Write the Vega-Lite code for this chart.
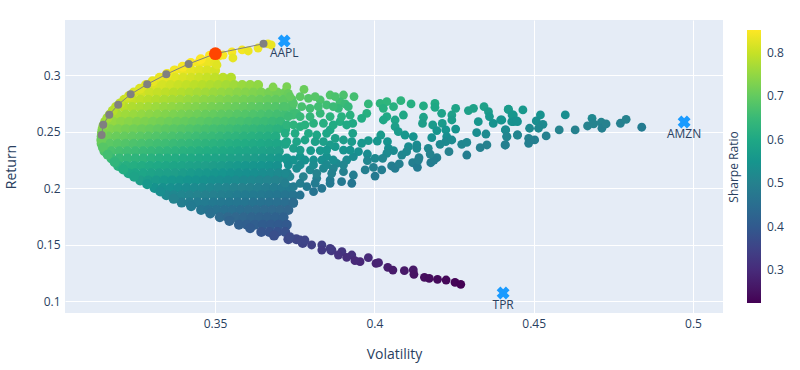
{"$schema":"https://vega.github.io/schema/vega-lite/v6.json","width":658,"height":293,"autosize":"none","padding":{"left":65,"top":20,"right":77,"bottom":57},"background":"white","config":{"view":{"stroke":null,"fill":"#E5ECF6"},"font":"Open Sans"},
"datasets":{"frontier":[{"vol":0.3144,"ret":0.2473},{"vol":0.3149,"ret":0.2565},{"vol":0.3168,"ret":0.2653},{"vol":0.3196,"ret":0.2742},{"vol":0.3235,"ret":0.2834},{"vol":0.3287,"ret":0.2922},{"vol":0.3347,"ret":0.3011},{"vol":0.3417,"ret":0.3102},{"vol":0.3501,"ret":0.3193},{"vol":0.3652,"ret":0.3281}],
"best":[{"vol":0.3501,"ret":0.3193}],
"assets":[{"vol":0.3717,"ret":0.3305,"name":"AAPL"},{"vol":0.4972,"ret":0.2588,"name":"AMZN"},{"vol":0.4404,"ret":0.1075,"name":"TPR"}],
"dense":[
{"vol":0.3484,"ret":0.3175,"s":0.853},{"vol":0.351,"ret":0.3175,"s":0.848},
{"vol":0.3424,"ret":0.311,"s":0.85},{"vol":0.345,"ret":0.311,"s":0.843},{"vol":0.3475,"ret":0.311,"s":0.837},{"vol":0.35,"ret":0.311,"s":0.831},
{"vol":0.3373,"ret":0.3045,"s":0.843},{"vol":0.34,"ret":0.3045,"s":0.837},{"vol":0.3425,"ret":0.3045,"s":0.831},{"vol":0.345,"ret":0.3045,"s":0.825},{"vol":0.3475,"ret":0.3045,"s":0.819},{"vol":0.35,"ret":0.3045,"s":0.813},
{"vol":0.3326,"ret":0.298,"s":0.836},{"vol":0.335,"ret":0.298,"s":0.83},{"vol":0.3375,"ret":0.298,"s":0.824},{"vol":0.34,"ret":0.298,"s":0.818},{"vol":0.3425,"ret":0.298,"s":0.812},{"vol":0.345,"ret":0.298,"s":0.806},{"vol":0.3475,"ret":0.298,"s":0.8},{"vol":0.35,"ret":0.298,"s":0.794},{"vol":0.3525,"ret":0.298,"s":0.789},{"vol":0.355,"ret":0.298,"s":0.783},
{"vol":0.3283,"ret":0.2915,"s":0.827},{"vol":0.331,"ret":0.2915,"s":0.82},{"vol":0.3335,"ret":0.2915,"s":0.814},{"vol":0.336,"ret":0.2915,"s":0.808},{"vol":0.3385,"ret":0.2915,"s":0.802},{"vol":0.341,"ret":0.2915,"s":0.796},{"vol":0.3435,"ret":0.2915,"s":0.79},{"vol":0.346,"ret":0.2915,"s":0.785},{"vol":0.3485,"ret":0.2915,"s":0.779},{"vol":0.351,"ret":0.2915,"s":0.774},{"vol":0.3535,"ret":0.2915,"s":0.768},{"vol":0.356,"ret":0.2915,"s":0.763},{"vol":0.3585,"ret":0.2915,"s":0.757},{"vol":0.361,"ret":0.2915,"s":0.752},{"vol":0.3635,"ret":0.2915,"s":0.747},
{"vol":0.3245,"ret":0.285,"s":0.817},{"vol":0.327,"ret":0.285,"s":0.81},{"vol":0.3295,"ret":0.285,"s":0.804},{"vol":0.332,"ret":0.285,"s":0.798},{"vol":0.3345,"ret":0.285,"s":0.792},{"vol":0.337,"ret":0.285,"s":0.786},{"vol":0.3395,"ret":0.285,"s":0.781},{"vol":0.342,"ret":0.285,"s":0.775},{"vol":0.3445,"ret":0.285,"s":0.769},{"vol":0.347,"ret":0.285,"s":0.764},{"vol":0.3495,"ret":0.285,"s":0.758},{"vol":0.352,"ret":0.285,"s":0.753},{"vol":0.3545,"ret":0.285,"s":0.748},{"vol":0.357,"ret":0.285,"s":0.742},{"vol":0.3595,"ret":0.285,"s":0.737},{"vol":0.362,"ret":0.285,"s":0.732},{"vol":0.3645,"ret":0.285,"s":0.727},{"vol":0.367,"ret":0.285,"s":0.722},{"vol":0.3695,"ret":0.285,"s":0.717},{"vol":0.372,"ret":0.285,"s":0.712},
{"vol":0.3215,"ret":0.2785,"s":0.804},{"vol":0.324,"ret":0.2785,"s":0.798},{"vol":0.3265,"ret":0.2785,"s":0.792},{"vol":0.329,"ret":0.2785,"s":0.786},{"vol":0.3315,"ret":0.2785,"s":0.78},{"vol":0.334,"ret":0.2785,"s":0.774},{"vol":0.3365,"ret":0.2785,"s":0.768},{"vol":0.339,"ret":0.2785,"s":0.763},{"vol":0.3415,"ret":0.2785,"s":0.757},{"vol":0.344,"ret":0.2785,"s":0.751},{"vol":0.3465,"ret":0.2785,"s":0.746},{"vol":0.349,"ret":0.2785,"s":0.741},{"vol":0.3515,"ret":0.2785,"s":0.735},{"vol":0.354,"ret":0.2785,"s":0.73},{"vol":0.3565,"ret":0.2785,"s":0.725},{"vol":0.359,"ret":0.2785,"s":0.72},{"vol":0.3615,"ret":0.2785,"s":0.715},{"vol":0.364,"ret":0.2785,"s":0.71},{"vol":0.3665,"ret":0.2785,"s":0.705},{"vol":0.369,"ret":0.2785,"s":0.701},{"vol":0.3715,"ret":0.2785,"s":0.696},{"vol":0.374,"ret":0.2785,"s":0.691},
{"vol":0.3189,"ret":0.272,"s":0.79},{"vol":0.3215,"ret":0.272,"s":0.784},{"vol":0.324,"ret":0.272,"s":0.778},{"vol":0.3265,"ret":0.272,"s":0.772},{"vol":0.329,"ret":0.272,"s":0.766},{"vol":0.3315,"ret":0.272,"s":0.76},{"vol":0.334,"ret":0.272,"s":0.754},{"vol":0.3365,"ret":0.272,"s":0.749},{"vol":0.339,"ret":0.272,"s":0.743},{"vol":0.3415,"ret":0.272,"s":0.738},{"vol":0.344,"ret":0.272,"s":0.733},{"vol":0.3465,"ret":0.272,"s":0.727},{"vol":0.349,"ret":0.272,"s":0.722},{"vol":0.3515,"ret":0.272,"s":0.717},{"vol":0.354,"ret":0.272,"s":0.712},{"vol":0.3565,"ret":0.272,"s":0.707},{"vol":0.359,"ret":0.272,"s":0.702},{"vol":0.3615,"ret":0.272,"s":0.697},{"vol":0.364,"ret":0.272,"s":0.692},{"vol":0.3665,"ret":0.272,"s":0.688},{"vol":0.369,"ret":0.272,"s":0.683},{"vol":0.3715,"ret":0.272,"s":0.678},{"vol":0.374,"ret":0.272,"s":0.674},
{"vol":0.317,"ret":0.2655,"s":0.774},{"vol":0.3195,"ret":0.2655,"s":0.768},{"vol":0.322,"ret":0.2655,"s":0.762},{"vol":0.3245,"ret":0.2655,"s":0.757},{"vol":0.327,"ret":0.2655,"s":0.751},{"vol":0.3295,"ret":0.2655,"s":0.745},{"vol":0.332,"ret":0.2655,"s":0.739},{"vol":0.3345,"ret":0.2655,"s":0.734},{"vol":0.337,"ret":0.2655,"s":0.728},{"vol":0.3395,"ret":0.2655,"s":0.723},{"vol":0.342,"ret":0.2655,"s":0.718},{"vol":0.3445,"ret":0.2655,"s":0.713},{"vol":0.347,"ret":0.2655,"s":0.707},{"vol":0.3495,"ret":0.2655,"s":0.702},{"vol":0.352,"ret":0.2655,"s":0.697},{"vol":0.3545,"ret":0.2655,"s":0.693},{"vol":0.357,"ret":0.2655,"s":0.688},{"vol":0.3595,"ret":0.2655,"s":0.683},{"vol":0.362,"ret":0.2655,"s":0.678},{"vol":0.3645,"ret":0.2655,"s":0.674},{"vol":0.367,"ret":0.2655,"s":0.669},{"vol":0.3695,"ret":0.2655,"s":0.664},{"vol":0.372,"ret":0.2655,"s":0.66},{"vol":0.3745,"ret":0.2655,"s":0.656},
{"vol":0.3155,"ret":0.259,"s":0.758},{"vol":0.318,"ret":0.259,"s":0.752},{"vol":0.3205,"ret":0.259,"s":0.746},{"vol":0.323,"ret":0.259,"s":0.74},{"vol":0.3255,"ret":0.259,"s":0.734},{"vol":0.328,"ret":0.259,"s":0.729},{"vol":0.3305,"ret":0.259,"s":0.723},{"vol":0.333,"ret":0.259,"s":0.718},{"vol":0.3355,"ret":0.259,"s":0.712},{"vol":0.338,"ret":0.259,"s":0.707},{"vol":0.3405,"ret":0.259,"s":0.702},{"vol":0.343,"ret":0.259,"s":0.697},{"vol":0.3455,"ret":0.259,"s":0.692},{"vol":0.348,"ret":0.259,"s":0.687},{"vol":0.3505,"ret":0.259,"s":0.682},{"vol":0.353,"ret":0.259,"s":0.677},{"vol":0.3555,"ret":0.259,"s":0.672},{"vol":0.358,"ret":0.259,"s":0.668},{"vol":0.3605,"ret":0.259,"s":0.663},{"vol":0.363,"ret":0.259,"s":0.658},{"vol":0.3655,"ret":0.259,"s":0.654},{"vol":0.368,"ret":0.259,"s":0.649},{"vol":0.3705,"ret":0.259,"s":0.645},
{"vol":0.3147,"ret":0.2525,"s":0.739},{"vol":0.317,"ret":0.2525,"s":0.733},{"vol":0.3195,"ret":0.2525,"s":0.728},{"vol":0.322,"ret":0.2525,"s":0.722},{"vol":0.3245,"ret":0.2525,"s":0.716},{"vol":0.327,"ret":0.2525,"s":0.711},{"vol":0.3295,"ret":0.2525,"s":0.706},{"vol":0.332,"ret":0.2525,"s":0.7},{"vol":0.3345,"ret":0.2525,"s":0.695},{"vol":0.337,"ret":0.2525,"s":0.69},{"vol":0.3395,"ret":0.2525,"s":0.685},{"vol":0.342,"ret":0.2525,"s":0.68},{"vol":0.3445,"ret":0.2525,"s":0.675},{"vol":0.347,"ret":0.2525,"s":0.67},{"vol":0.3495,"ret":0.2525,"s":0.665},{"vol":0.352,"ret":0.2525,"s":0.661},{"vol":0.3545,"ret":0.2525,"s":0.656},{"vol":0.357,"ret":0.2525,"s":0.651},{"vol":0.3595,"ret":0.2525,"s":0.647},{"vol":0.362,"ret":0.2525,"s":0.642},{"vol":0.3645,"ret":0.2525,"s":0.638},{"vol":0.367,"ret":0.2525,"s":0.634},{"vol":0.3695,"ret":0.2525,"s":0.629},{"vol":0.372,"ret":0.2525,"s":0.625},
{"vol":0.3144,"ret":0.246,"s":0.719},{"vol":0.3165,"ret":0.246,"s":0.714},{"vol":0.319,"ret":0.246,"s":0.708},{"vol":0.3215,"ret":0.246,"s":0.703},{"vol":0.324,"ret":0.246,"s":0.698},{"vol":0.3265,"ret":0.246,"s":0.692},{"vol":0.329,"ret":0.246,"s":0.687},{"vol":0.3315,"ret":0.246,"s":0.682},{"vol":0.334,"ret":0.246,"s":0.677},{"vol":0.3365,"ret":0.246,"s":0.672},{"vol":0.339,"ret":0.246,"s":0.667},{"vol":0.3415,"ret":0.246,"s":0.662},{"vol":0.344,"ret":0.246,"s":0.657},{"vol":0.3465,"ret":0.246,"s":0.652},{"vol":0.349,"ret":0.246,"s":0.648},{"vol":0.3515,"ret":0.246,"s":0.643},{"vol":0.354,"ret":0.246,"s":0.638},{"vol":0.3565,"ret":0.246,"s":0.634},{"vol":0.359,"ret":0.246,"s":0.63},{"vol":0.3615,"ret":0.246,"s":0.625},{"vol":0.364,"ret":0.246,"s":0.621},{"vol":0.3665,"ret":0.246,"s":0.617},{"vol":0.369,"ret":0.246,"s":0.612},
{"vol":0.3144,"ret":0.2395,"s":0.698},{"vol":0.317,"ret":0.2395,"s":0.692},{"vol":0.3195,"ret":0.2395,"s":0.687},{"vol":0.322,"ret":0.2395,"s":0.682},{"vol":0.3245,"ret":0.2395,"s":0.676},{"vol":0.327,"ret":0.2395,"s":0.671},{"vol":0.3295,"ret":0.2395,"s":0.666},{"vol":0.332,"ret":0.2395,"s":0.661},{"vol":0.3345,"ret":0.2395,"s":0.656},{"vol":0.337,"ret":0.2395,"s":0.651},{"vol":0.3395,"ret":0.2395,"s":0.647},{"vol":0.342,"ret":0.2395,"s":0.642},{"vol":0.3445,"ret":0.2395,"s":0.637},{"vol":0.347,"ret":0.2395,"s":0.633},{"vol":0.3495,"ret":0.2395,"s":0.628},{"vol":0.352,"ret":0.2395,"s":0.624},{"vol":0.3545,"ret":0.2395,"s":0.619},{"vol":0.357,"ret":0.2395,"s":0.615},{"vol":0.3595,"ret":0.2395,"s":0.611},{"vol":0.362,"ret":0.2395,"s":0.606},{"vol":0.3645,"ret":0.2395,"s":0.602},{"vol":0.367,"ret":0.2395,"s":0.598},{"vol":0.3695,"ret":0.2395,"s":0.594},{"vol":0.372,"ret":0.2395,"s":0.59},
{"vol":0.3153,"ret":0.233,"s":0.676},{"vol":0.3175,"ret":0.233,"s":0.671},{"vol":0.32,"ret":0.233,"s":0.666},{"vol":0.3225,"ret":0.233,"s":0.66},{"vol":0.325,"ret":0.233,"s":0.655},{"vol":0.3275,"ret":0.233,"s":0.65},{"vol":0.33,"ret":0.233,"s":0.645},{"vol":0.3325,"ret":0.233,"s":0.641},{"vol":0.335,"ret":0.233,"s":0.636},{"vol":0.3375,"ret":0.233,"s":0.631},{"vol":0.34,"ret":0.233,"s":0.626},{"vol":0.3425,"ret":0.233,"s":0.622},{"vol":0.345,"ret":0.233,"s":0.617},{"vol":0.3475,"ret":0.233,"s":0.613},{"vol":0.35,"ret":0.233,"s":0.609},{"vol":0.3525,"ret":0.233,"s":0.604},{"vol":0.355,"ret":0.233,"s":0.6},{"vol":0.3575,"ret":0.233,"s":0.596},{"vol":0.36,"ret":0.233,"s":0.592},{"vol":0.3625,"ret":0.233,"s":0.588},{"vol":0.365,"ret":0.233,"s":0.584},{"vol":0.3675,"ret":0.233,"s":0.58},{"vol":0.37,"ret":0.233,"s":0.576},
{"vol":0.3175,"ret":0.2265,"s":0.65},{"vol":0.32,"ret":0.2265,"s":0.645},{"vol":0.3225,"ret":0.2265,"s":0.64},{"vol":0.325,"ret":0.2265,"s":0.635},{"vol":0.3275,"ret":0.2265,"s":0.631},{"vol":0.33,"ret":0.2265,"s":0.626},{"vol":0.3325,"ret":0.2265,"s":0.621},{"vol":0.335,"ret":0.2265,"s":0.616},{"vol":0.3375,"ret":0.2265,"s":0.612},{"vol":0.34,"ret":0.2265,"s":0.607},{"vol":0.3425,"ret":0.2265,"s":0.603},{"vol":0.345,"ret":0.2265,"s":0.599},{"vol":0.3475,"ret":0.2265,"s":0.594},{"vol":0.35,"ret":0.2265,"s":0.59},{"vol":0.3525,"ret":0.2265,"s":0.586},{"vol":0.355,"ret":0.2265,"s":0.582},{"vol":0.3575,"ret":0.2265,"s":0.578},{"vol":0.36,"ret":0.2265,"s":0.574},{"vol":0.3625,"ret":0.2265,"s":0.57},{"vol":0.365,"ret":0.2265,"s":0.566},{"vol":0.3675,"ret":0.2265,"s":0.562},{"vol":0.37,"ret":0.2265,"s":0.558},{"vol":0.3725,"ret":0.2265,"s":0.554},
{"vol":0.3196,"ret":0.22,"s":0.626},{"vol":0.322,"ret":0.22,"s":0.621},{"vol":0.3245,"ret":0.22,"s":0.616},{"vol":0.327,"ret":0.22,"s":0.612},{"vol":0.3295,"ret":0.22,"s":0.607},{"vol":0.332,"ret":0.22,"s":0.602},{"vol":0.3345,"ret":0.22,"s":0.598},{"vol":0.337,"ret":0.22,"s":0.593},{"vol":0.3395,"ret":0.22,"s":0.589},{"vol":0.342,"ret":0.22,"s":0.585},{"vol":0.3445,"ret":0.22,"s":0.581},{"vol":0.347,"ret":0.22,"s":0.576},{"vol":0.3495,"ret":0.22,"s":0.572},{"vol":0.352,"ret":0.22,"s":0.568},{"vol":0.3545,"ret":0.22,"s":0.564},{"vol":0.357,"ret":0.22,"s":0.56},{"vol":0.3595,"ret":0.22,"s":0.556},{"vol":0.362,"ret":0.22,"s":0.552},{"vol":0.3645,"ret":0.22,"s":0.549},{"vol":0.367,"ret":0.22,"s":0.545},{"vol":0.3695,"ret":0.22,"s":0.541},
{"vol":0.3228,"ret":0.2135,"s":0.599},{"vol":0.325,"ret":0.2135,"s":0.595},{"vol":0.3275,"ret":0.2135,"s":0.591},{"vol":0.33,"ret":0.2135,"s":0.586},{"vol":0.3325,"ret":0.2135,"s":0.582},{"vol":0.335,"ret":0.2135,"s":0.578},{"vol":0.3375,"ret":0.2135,"s":0.573},{"vol":0.34,"ret":0.2135,"s":0.569},{"vol":0.3425,"ret":0.2135,"s":0.565},{"vol":0.345,"ret":0.2135,"s":0.561},{"vol":0.3475,"ret":0.2135,"s":0.557},{"vol":0.35,"ret":0.2135,"s":0.553},{"vol":0.3525,"ret":0.2135,"s":0.549},{"vol":0.355,"ret":0.2135,"s":0.545},{"vol":0.3575,"ret":0.2135,"s":0.541},{"vol":0.36,"ret":0.2135,"s":0.538},{"vol":0.3625,"ret":0.2135,"s":0.534},{"vol":0.365,"ret":0.2135,"s":0.53},{"vol":0.3675,"ret":0.2135,"s":0.527},{"vol":0.37,"ret":0.2135,"s":0.523},{"vol":0.3725,"ret":0.2135,"s":0.519},
{"vol":0.3265,"ret":0.207,"s":0.573},{"vol":0.329,"ret":0.207,"s":0.568},{"vol":0.3315,"ret":0.207,"s":0.564},{"vol":0.334,"ret":0.207,"s":0.56},{"vol":0.3365,"ret":0.207,"s":0.556},{"vol":0.339,"ret":0.207,"s":0.552},{"vol":0.3415,"ret":0.207,"s":0.548},{"vol":0.344,"ret":0.207,"s":0.544},{"vol":0.3465,"ret":0.207,"s":0.54},{"vol":0.349,"ret":0.207,"s":0.536},{"vol":0.3515,"ret":0.207,"s":0.532},{"vol":0.354,"ret":0.207,"s":0.528},{"vol":0.3565,"ret":0.207,"s":0.525},{"vol":0.359,"ret":0.207,"s":0.521},{"vol":0.3615,"ret":0.207,"s":0.517},{"vol":0.364,"ret":0.207,"s":0.514},{"vol":0.3665,"ret":0.207,"s":0.51},{"vol":0.369,"ret":0.207,"s":0.507},{"vol":0.3715,"ret":0.207,"s":0.503},
{"vol":0.331,"ret":0.2005,"s":0.545},{"vol":0.3335,"ret":0.2005,"s":0.541},{"vol":0.336,"ret":0.2005,"s":0.537},{"vol":0.3385,"ret":0.2005,"s":0.533},{"vol":0.341,"ret":0.2005,"s":0.529},{"vol":0.3435,"ret":0.2005,"s":0.525},{"vol":0.346,"ret":0.2005,"s":0.522},{"vol":0.3485,"ret":0.2005,"s":0.518},{"vol":0.351,"ret":0.2005,"s":0.514},{"vol":0.3535,"ret":0.2005,"s":0.511},{"vol":0.356,"ret":0.2005,"s":0.507},{"vol":0.3585,"ret":0.2005,"s":0.503},{"vol":0.361,"ret":0.2005,"s":0.5},{"vol":0.3635,"ret":0.2005,"s":0.497},{"vol":0.366,"ret":0.2005,"s":0.493},{"vol":0.3685,"ret":0.2005,"s":0.49},{"vol":0.371,"ret":0.2005,"s":0.487},{"vol":0.3735,"ret":0.2005,"s":0.483},
{"vol":0.3347,"ret":0.194,"s":0.52},{"vol":0.337,"ret":0.194,"s":0.516},{"vol":0.3395,"ret":0.194,"s":0.513},{"vol":0.342,"ret":0.194,"s":0.509},{"vol":0.3445,"ret":0.194,"s":0.505},{"vol":0.347,"ret":0.194,"s":0.501},{"vol":0.3495,"ret":0.194,"s":0.498},{"vol":0.352,"ret":0.194,"s":0.494},{"vol":0.3545,"ret":0.194,"s":0.491},{"vol":0.357,"ret":0.194,"s":0.487},{"vol":0.3595,"ret":0.194,"s":0.484},{"vol":0.362,"ret":0.194,"s":0.481},{"vol":0.3645,"ret":0.194,"s":0.477},{"vol":0.367,"ret":0.194,"s":0.474},{"vol":0.3695,"ret":0.194,"s":0.471},{"vol":0.372,"ret":0.194,"s":0.468},{"vol":0.3745,"ret":0.194,"s":0.465},
{"vol":0.3395,"ret":0.1875,"s":0.493},{"vol":0.342,"ret":0.1875,"s":0.49},{"vol":0.3445,"ret":0.1875,"s":0.486},{"vol":0.347,"ret":0.1875,"s":0.483},{"vol":0.3495,"ret":0.1875,"s":0.479},{"vol":0.352,"ret":0.1875,"s":0.476},{"vol":0.3545,"ret":0.1875,"s":0.472},{"vol":0.357,"ret":0.1875,"s":0.469},{"vol":0.3595,"ret":0.1875,"s":0.466},{"vol":0.362,"ret":0.1875,"s":0.463},{"vol":0.3645,"ret":0.1875,"s":0.46},{"vol":0.367,"ret":0.1875,"s":0.456},{"vol":0.3695,"ret":0.1875,"s":0.453},{"vol":0.372,"ret":0.1875,"s":0.45},{"vol":0.3745,"ret":0.1875,"s":0.447},
{"vol":0.3456,"ret":0.181,"s":0.466},{"vol":0.348,"ret":0.181,"s":0.463},{"vol":0.3505,"ret":0.181,"s":0.459},{"vol":0.353,"ret":0.181,"s":0.456},{"vol":0.3555,"ret":0.181,"s":0.453},{"vol":0.358,"ret":0.181,"s":0.45},{"vol":0.3605,"ret":0.181,"s":0.447},{"vol":0.363,"ret":0.181,"s":0.444},{"vol":0.3655,"ret":0.181,"s":0.44},{"vol":0.368,"ret":0.181,"s":0.438},{"vol":0.3705,"ret":0.181,"s":0.435},{"vol":0.373,"ret":0.181,"s":0.432},
{"vol":0.3515,"ret":0.1745,"s":0.44},{"vol":0.354,"ret":0.1745,"s":0.436},{"vol":0.3565,"ret":0.1745,"s":0.433},{"vol":0.359,"ret":0.1745,"s":0.43},{"vol":0.3615,"ret":0.1745,"s":0.427},{"vol":0.364,"ret":0.1745,"s":0.424},{"vol":0.3665,"ret":0.1745,"s":0.422},{"vol":0.369,"ret":0.1745,"s":0.419},{"vol":0.3715,"ret":0.1745,"s":0.416},
{"vol":0.3575,"ret":0.168,"s":0.414},{"vol":0.36,"ret":0.168,"s":0.411},{"vol":0.3625,"ret":0.168,"s":0.408},{"vol":0.365,"ret":0.168,"s":0.405},{"vol":0.3675,"ret":0.168,"s":0.403},{"vol":0.37,"ret":0.168,"s":0.4},{"vol":0.3725,"ret":0.168,"s":0.397},
{"vol":0.3645,"ret":0.1615,"s":0.388},{"vol":0.367,"ret":0.1615,"s":0.386},{"vol":0.3695,"ret":0.1615,"s":0.383},{"vol":0.372,"ret":0.1615,"s":0.38},
{"vol":0.373,"ret":0.155,"s":0.362},{"vol":0.3755,"ret":0.155,"s":0.36},
{"vol":0.3455,"ret":0.3143,"s":0.852},{"vol":0.3398,"ret":0.3078,"s":0.847},{"vol":0.3349,"ret":0.3013,"s":0.84},{"vol":0.3304,"ret":0.2948,"s":0.832},{"vol":0.3264,"ret":0.2883,"s":0.822},{"vol":0.323,"ret":0.2818,"s":0.811},{"vol":0.3202,"ret":0.2753,"s":0.797},{"vol":0.3179,"ret":0.2688,"s":0.783},{"vol":0.3162,"ret":0.2623,"s":0.766},{"vol":0.315,"ret":0.2558,"s":0.749},{"vol":0.3145,"ret":0.2493,"s":0.729},{"vol":0.3143,"ret":0.2428,"s":0.709},{"vol":0.3148,"ret":0.2363,"s":0.687},{"vol":0.3163,"ret":0.2298,"s":0.663},{"vol":0.3185,"ret":0.2233,"s":0.638},{"vol":0.3212,"ret":0.2168,"s":0.613},{"vol":0.3246,"ret":0.2103,"s":0.586},{"vol":0.3287,"ret":0.2038,"s":0.559},{"vol":0.3328,"ret":0.1973,"s":0.533},{"vol":0.337,"ret":0.1908,"s":0.507},{"vol":0.3425,"ret":0.1843,"s":0.48},{"vol":0.3485,"ret":0.1778,"s":0.453},{"vol":0.3545,"ret":0.1713,"s":0.427},{"vol":0.361,"ret":0.1648,"s":0.401},{"vol":0.3685,"ret":0.1583,"s":0.375},{"vol":0.3775,"ret":0.1518,"s":0.349},{"vol":0.3865,"ret":0.1453,"s":0.324}
],
"portfolios":[
{"vol":0.3506,"ret":0.3093,"s":0.825},{"vol":0.3553,"ret":0.3208,"s":0.847},{"vol":0.3556,"ret":0.3155,"s":0.831},{"vol":0.3585,"ret":0.3226,"s":0.844},{"vol":0.3604,"ret":0.3217,"s":0.837},{"vol":0.3635,"ret":0.3243,"s":0.837},{"vol":0.3666,"ret":0.3279,"s":0.84},{"vol":0.3676,"ret":0.327,"s":0.835},{"vol":0.3525,"ret":0.3181,"s":0.846},{"vol":0.3682,"ret":0.2898,"s":0.733},
{"vol":0.3725,"ret":0.2901,"s":0.725},{"vol":0.373,"ret":0.2842,"s":0.708},{"vol":0.3779,"ret":0.2877,"s":0.708},{"vol":0.3746,"ret":0.2753,"s":0.682},{"vol":0.3793,"ret":0.2798,"s":0.685},{"vol":0.383,"ret":0.2783,"s":0.674},{"vol":0.3861,"ret":0.2827,"s":0.68},{"vol":0.3903,"ret":0.2827,"s":0.673},{"vol":0.3936,"ret":0.2813,"s":0.664},{"vol":0.3892,"ret":0.2768,"s":0.66},{"vol":0.3908,"ret":0.2748,"s":0.652},{"vol":0.385,"ret":0.2739,"s":0.66},{"vol":0.3798,"ret":0.2709,"s":0.661},{"vol":0.3756,"ret":0.2665,"s":0.656},{"vol":0.3887,"ret":0.2709,"s":0.645},{"vol":0.3924,"ret":0.265,"s":0.624},{"vol":0.383,"ret":0.2665,"s":0.644},{"vol":0.3981,"ret":0.2748,"s":0.64},{"vol":0.4018,"ret":0.2753,"s":0.635},{"vol":0.4039,"ret":0.2768,"s":0.636},{"vol":0.4083,"ret":0.2777,"s":0.631},{"vol":0.4115,"ret":0.2748,"s":0.619},{"vol":0.406,"ret":0.2724,"s":0.622},{"vol":0.4028,"ret":0.2709,"s":0.623},{"vol":0.4091,"ret":0.265,"s":0.599},{"vol":0.4039,"ret":0.2636,"s":0.603},{"vol":0.3976,"ret":0.2665,"s":0.62},{"vol":0.396,"ret":0.2621,"s":0.611},{"vol":0.4028,"ret":0.2606,"s":0.597},{"vol":0.4065,"ret":0.2606,"s":0.592},{"vol":0.4154,"ret":0.273,"s":0.609},{"vol":0.419,"ret":0.2753,"s":0.609},{"vol":0.419,"ret":0.2718,"s":0.601},{"vol":0.4211,"ret":0.2665,"s":0.585},{"vol":0.4255,"ret":0.2709,"s":0.59},{"vol":0.4243,"ret":0.265,"s":0.578},{"vol":0.4243,"ret":0.2606,"s":0.567},{"vol":0.4154,"ret":0.263,"s":0.585},{"vol":0.4151,"ret":0.2576,"s":0.572},{"vol":0.4295,"ret":0.2689,"s":0.579},{"vol":0.4311,"ret":0.2709,"s":0.582},{"vol":0.4344,"ret":0.2724,"s":0.581},{"vol":0.4358,"ret":0.268,"s":0.569},{"vol":0.4361,"ret":0.2636,"s":0.559},{"vol":0.4326,"ret":0.2591,"s":0.553},{"vol":0.4373,"ret":0.2576,"s":0.543},{"vol":0.4396,"ret":0.2606,"s":0.547},{"vol":0.442,"ret":0.27,"s":0.565},{"vol":0.4436,"ret":0.265,"s":0.552},{"vol":0.4431,"ret":0.2591,"s":0.54},{"vol":0.4449,"ret":0.2591,"s":0.537},{"vol":0.4183,"ret":0.2562,"s":0.565},{"vol":0.4213,"ret":0.2576,"s":0.564},{"vol":0.4196,"ret":0.2512,"s":0.551},{"vol":0.4224,"ret":0.2518,"s":0.549},{"vol":0.4255,"ret":0.2526,"s":0.547},{"vol":0.4065,"ret":0.2547,"s":0.577},{"vol":0.4075,"ret":0.2503,"s":0.565},{"vol":0.4096,"ret":0.2473,"s":0.555},{"vol":0.4122,"ret":0.2459,"s":0.548},{"vol":0.402,"ret":0.2473,"s":0.565},{"vol":0.4009,"ret":0.242,"s":0.554},{"vol":0.4041,"ret":0.2414,"s":0.548},{"vol":0.3981,"ret":0.2423,"s":0.558},{"vol":0.396,"ret":0.24,"s":0.556},{"vol":0.418,"ret":0.245,"s":0.538},{"vol":0.4227,"ret":0.2459,"s":0.534},{"vol":0.4224,"ret":0.2414,"s":0.524},{"vol":0.4243,"ret":0.2429,"s":0.525},{"vol":0.4206,"ret":0.2391,"s":0.521},{"vol":0.4321,"ret":0.2494,"s":0.531},{"vol":0.435,"ret":0.2482,"s":0.525},{"vol":0.4412,"ret":0.2518,"s":0.525},{"vol":0.4415,"ret":0.2459,"s":0.512},{"vol":0.4449,"ret":0.2473,"s":0.511},{"vol":0.4274,"ret":0.2391,"s":0.513},{"vol":0.429,"ret":0.2408,"s":0.515},{"vol":0.441,"ret":0.2385,"s":0.495},{"vol":0.4353,"ret":0.2385,"s":0.502},{"vol":0.4332,"ret":0.2361,"s":0.499},{"vol":0.4234,"ret":0.2326,"s":0.502},{"vol":0.429,"ret":0.2296,"s":0.489},{"vol":0.4169,"ret":0.2355,"s":0.517},{"vol":0.4133,"ret":0.2385,"s":0.529},{"vol":0.4107,"ret":0.237,"s":0.528},{"vol":0.4133,"ret":0.2355,"s":0.521},{"vol":0.4044,"ret":0.2355,"s":0.533},{"vol":0.406,"ret":0.2335,"s":0.526},{"vol":0.4039,"ret":0.2311,"s":0.523},{"vol":0.395,"ret":0.2326,"s":0.538},{"vol":0.3934,"ret":0.2282,"s":0.529},{"vol":0.3978,"ret":0.2305,"s":0.529},{"vol":0.4002,"ret":0.2267,"s":0.517},{"vol":0.4026,"ret":0.2267,"s":0.513},{"vol":0.3978,"ret":0.2246,"s":0.514},{"vol":0.3971,"ret":0.2164,"s":0.495},{"vol":0.4002,"ret":0.211,"s":0.477},{"vol":0.4023,"ret":0.2164,"s":0.488},{"vol":0.4054,"ret":0.2199,"s":0.493},{"vol":0.4065,"ret":0.2178,"s":0.487},{"vol":0.4078,"ret":0.2217,"s":0.495},{"vol":0.4086,"ret":0.2296,"s":0.513},{"vol":0.4101,"ret":0.2326,"s":0.518},{"vol":0.414,"ret":0.2273,"s":0.501},{"vol":0.412,"ret":0.2228,"s":0.492},{"vol":0.4135,"ret":0.2187,"s":0.48},{"vol":0.4138,"ret":0.2252,"s":0.496},{"vol":0.4196,"ret":0.2273,"s":0.494},{"vol":0.4177,"ret":0.2228,"s":0.486},{"vol":0.4187,"ret":0.2252,"s":0.49},{"vol":0.4175,"ret":0.2305,"s":0.504},{"vol":0.3997,"ret":0.2187,"s":0.497},{"vol":0.3934,"ret":0.2119,"s":0.488},{"vol":0.3929,"ret":0.2046,"s":0.47},{"vol":0.3903,"ret":0.234,"s":0.548},{"vol":0.3877,"ret":0.237,"s":0.56},{"vol":0.3861,"ret":0.2385,"s":0.566},{"vol":0.383,"ret":0.2335,"s":0.557},{"vol":0.38,"ret":0.2335,"s":0.562},{"vol":0.3903,"ret":0.2429,"s":0.571},{"vol":0.3877,"ret":0.2444,"s":0.579},{"vol":0.3861,"ret":0.2518,"s":0.6},
{"vol":0.3809,"ret":0.2577,"s":0.624},{"vol":0.3767,"ret":0.2547,"s":0.623},{"vol":0.384,"ret":0.2577,"s":0.619},{"vol":0.3892,"ret":0.2591,"s":0.614},{"vol":0.3932,"ret":0.2576,"s":0.604},{"vol":0.3932,"ret":0.2488,"s":0.582},{"vol":0.3819,"ret":0.2473,"s":0.595},{"vol":0.3782,"ret":0.2429,"s":0.589},{"vol":0.3746,"ret":0.2355,"s":0.575},{"vol":0.3767,"ret":0.2282,"s":0.553},{"vol":0.3809,"ret":0.2252,"s":0.539},{"vol":0.385,"ret":0.2282,"s":0.541},{"vol":0.3882,"ret":0.2222,"s":0.521},{"vol":0.3913,"ret":0.2252,"s":0.524},{"vol":0.384,"ret":0.2178,"s":0.515},{"vol":0.3871,"ret":0.2178,"s":0.511},{"vol":0.3903,"ret":0.2149,"s":0.499},{"vol":0.3798,"ret":0.2164,"s":0.517},{"vol":0.3756,"ret":0.2178,"s":0.527},{"vol":0.3735,"ret":0.2105,"s":0.51},{"vol":0.3777,"ret":0.2105,"s":0.504},{"vol":0.3819,"ret":0.209,"s":0.495},{"vol":0.3861,"ret":0.2075,"s":0.486},{"vol":0.3897,"ret":0.206,"s":0.477},{"vol":0.3746,"ret":0.2016,"s":0.485},{"vol":0.3788,"ret":0.2016,"s":0.479},{"vol":0.3835,"ret":0.2001,"s":0.47},{"vol":0.3767,"ret":0.1942,"s":0.463},{"vol":0.3809,"ret":0.1972,"s":0.465},{"vol":0.3746,"ret":0.1869,"s":0.445},
{"vol":0.3735,"ret":0.2813,"s":0.7},{"vol":0.3767,"ret":0.2813,"s":0.694},{"vol":0.3814,"ret":0.2813,"s":0.685},{"vol":0.3877,"ret":0.2813,"s":0.674},{"vol":0.372,"ret":0.2724,"s":0.678},{"vol":0.3772,"ret":0.2724,"s":0.669},{"vol":0.3824,"ret":0.2724,"s":0.66},{"vol":0.3871,"ret":0.2724,"s":0.652},{"vol":0.3918,"ret":0.2724,"s":0.644},{"vol":0.373,"ret":0.2636,"s":0.653},{"vol":0.3767,"ret":0.2636,"s":0.647},{"vol":0.3798,"ret":0.2636,"s":0.641},{"vol":0.3861,"ret":0.2636,"s":0.631},{"vol":0.3897,"ret":0.2636,"s":0.625},{"vol":0.3725,"ret":0.2562,"s":0.634},{"vol":0.3746,"ret":0.2562,"s":0.631},{"vol":0.3782,"ret":0.2562,"s":0.625},{"vol":0.3871,"ret":0.2562,"s":0.61},{"vol":0.3913,"ret":0.2562,"s":0.604},{"vol":0.372,"ret":0.2488,"s":0.615},{"vol":0.3751,"ret":0.2488,"s":0.61},{"vol":0.3793,"ret":0.2488,"s":0.603},{"vol":0.385,"ret":0.2488,"s":0.594},{"vol":0.3725,"ret":0.2414,"s":0.594},{"vol":0.3756,"ret":0.2414,"s":0.589},{"vol":0.3814,"ret":0.2414,"s":0.58},{"vol":0.384,"ret":0.2414,"s":0.577},{"vol":0.3929,"ret":0.2414,"s":0.563},{"vol":0.3767,"ret":0.234,"s":0.568},{"vol":0.385,"ret":0.234,"s":0.556},{"vol":0.3924,"ret":0.234,"s":0.545},{"vol":0.3725,"ret":0.2252,"s":0.551},{"vol":0.3746,"ret":0.2252,"s":0.548},{"vol":0.3782,"ret":0.2252,"s":0.543},{"vol":0.3835,"ret":0.2252,"s":0.535},{"vol":0.3871,"ret":0.2252,"s":0.53},{"vol":0.373,"ret":0.2208,"s":0.538},{"vol":0.3767,"ret":0.2208,"s":0.533},{"vol":0.3809,"ret":0.2208,"s":0.527},{"vol":0.385,"ret":0.2208,"s":0.522},{"vol":0.3903,"ret":0.2208,"s":0.514},{"vol":0.372,"ret":0.2134,"s":0.52},{"vol":0.3819,"ret":0.2134,"s":0.506},{"vol":0.3866,"ret":0.2134,"s":0.5},{"vol":0.372,"ret":0.2046,"s":0.496},{"vol":0.3767,"ret":0.2046,"s":0.49},{"vol":0.3814,"ret":0.2046,"s":0.484},{"vol":0.3861,"ret":0.2046,"s":0.478},
{"vol":0.3735,"ret":0.1574,"s":0.368},{"vol":0.3767,"ret":0.1544,"s":0.357},{"vol":0.3782,"ret":0.1544,"s":0.355},{"vol":0.3803,"ret":0.15,"s":0.342},{"vol":0.3835,"ret":0.15,"s":0.339},{"vol":0.3861,"ret":0.147,"s":0.329},{"vol":0.3835,"ret":0.1455,"s":0.327},{"vol":0.3898,"ret":0.1441,"s":0.318},{"vol":0.3887,"ret":0.1411,"s":0.312},{"vol":0.3929,"ret":0.1411,"s":0.308},{"vol":0.3913,"ret":0.1391,"s":0.304},{"vol":0.3955,"ret":0.1352,"s":0.291},{"vol":0.3939,"ret":0.1361,"s":0.295},{"vol":0.3981,"ret":0.1388,"s":0.298},{"vol":0.4005,"ret":0.1337,"s":0.284},{"vol":0.4013,"ret":0.1343,"s":0.285},{"vol":0.4042,"ret":0.1302,"s":0.273},{"vol":0.4058,"ret":0.1278,"s":0.266},{"vol":0.4094,"ret":0.1273,"s":0.262},{"vol":0.4122,"ret":0.1279,"s":0.262},{"vol":0.4124,"ret":0.124,"s":0.252},{"vol":0.4157,"ret":0.1214,"s":0.244},{"vol":0.4172,"ret":0.1205,"s":0.241},{"vol":0.4198,"ret":0.1196,"s":0.237},{"vol":0.4225,"ret":0.119,"s":0.234},{"vol":0.4253,"ret":0.1169,"s":0.228},{"vol":0.4271,"ret":0.1152,"s":0.224},
{"vol":0.44,"ret":0.2606,"s":0.547},{"vol":0.4421,"ret":0.2701,"s":0.566},{"vol":0.4432,"ret":0.2651,"s":0.553},{"vol":0.4466,"ret":0.2695,"s":0.559},{"vol":0.4437,"ret":0.2592,"s":0.539},{"vol":0.4447,"ret":0.2598,"s":0.539},{"vol":0.4521,"ret":0.2651,"s":0.542},{"vol":0.4508,"ret":0.2598,"s":0.532},{"vol":0.4529,"ret":0.2568,"s":0.523},{"vol":0.4515,"ret":0.2533,"s":0.517},{"vol":0.4487,"ret":0.2533,"s":0.52},{"vol":0.4411,"ret":0.2518,"s":0.525},{"vol":0.4416,"ret":0.2459,"s":0.512},{"vol":0.4411,"ret":0.2385,"s":0.495},{"vol":0.4449,"ret":0.2474,"s":0.511},{"vol":0.4484,"ret":0.2444,"s":0.5},{"vol":0.4484,"ret":0.24,"s":0.491},{"vol":0.4503,"ret":0.243,"s":0.495},{"vol":0.4539,"ret":0.2465,"s":0.499},{"vol":0.458,"ret":0.2518,"s":0.506},{"vol":0.4599,"ret":0.2651,"s":0.533},{"vol":0.463,"ret":0.2518,"s":0.501},{"vol":0.4669,"ret":0.2553,"s":0.504},{"vol":0.4683,"ret":0.2621,"s":0.517},{"vol":0.4688,"ret":0.2571,"s":0.506},{"vol":0.4712,"ret":0.2586,"s":0.506},{"vol":0.4714,"ret":0.2533,"s":0.495},{"vol":0.4727,"ret":0.2571,"s":0.502},{"vol":0.4772,"ret":0.2577,"s":0.498},{"vol":0.479,"ret":0.2612,"s":0.504},{"vol":0.4839,"ret":0.2542,"s":0.484}
]},
"layer":[
{"data":{"name":"dense"},"mark":{"type":"circle","size":100,"opacity":1},"encoding":{
"x":{"field":"vol","type":"quantitative","title":"Volatility","scale":{"domain":[0.3029,0.5094],"nice":false,"zero":false},"axis":{"values":[0.35,0.4,0.45,0.5],"format":"~g","grid":true,"gridColor":"white","gridWidth":1,"domain":false,"ticks":false,"labelFont":"Open Sans","labelFontSize":12,"labelColor":"#2a3f5f","labelPadding":5,"titleFont":"Open Sans","titleFontSize":14,"titleFontWeight":"normal","titleColor":"#2a3f5f","titlePadding":18}},
"y":{"field":"ret","type":"quantitative","title":"Return","scale":{"domain":[0.0898,0.3491],"nice":false,"zero":false},"axis":{"values":[0.1,0.15,0.2,0.25,0.3],"format":"~g","grid":true,"gridColor":"white","gridWidth":1,"domain":false,"ticks":false,"labelFont":"Open Sans","labelFontSize":12,"labelColor":"#2a3f5f","labelPadding":5,"titleFont":"Open Sans","titleFontSize":14,"titleFontWeight":"normal","titleColor":"#2a3f5f","titlePadding":18}},
"color":{"field":"s","type":"quantitative","title":"Sharpe Ratio","scale":{"domain":[0.224,0.853],"range":["#440154","#482878","#3e4989","#31688e","#26828e","#1f9e89","#35b779","#6ece58","#b5de2b","#fde725"]},"legend":{"orient":"none","legendX":663,"legendY":10,"direction":"vertical","gradientLength":273,"gradientThickness":14,"gradientStrokeWidth":0,"values":[0.3,0.4,0.5,0.6,0.7,0.8],"labelFont":"Open Sans","labelFontSize":12,"labelColor":"#2a3f5f","labelOffset":6,"titleOrient":"left","titleFont":"Open Sans","titleFontSize":12,"titleFontWeight":"normal","titleColor":"#2a3f5f","titleAnchor":"middle","titlePadding":5,"encoding":{"title":{"update":{"angle":{"value":270}}}}}}}},
{"data":{"name":"portfolios"},"mark":{"type":"circle","size":78,"opacity":1},"encoding":{"x":{"field":"vol","type":"quantitative"},"y":{"field":"ret","type":"quantitative"},"color":{"field":"s","type":"quantitative"}}},
{"data":{"name":"frontier"},"mark":{"type":"line","color":"#808080","strokeWidth":1},"encoding":{"x":{"field":"vol","type":"quantitative"},"y":{"field":"ret","type":"quantitative"},"order":{"field":"ret"}}},
{"data":{"name":"frontier"},"mark":{"type":"circle","size":64,"color":"#808080","opacity":1},"encoding":{"x":{"field":"vol","type":"quantitative"},"y":{"field":"ret","type":"quantitative"}}},
{"data":{"name":"best"},"mark":{"type":"circle","size":165,"color":"#FF4500","opacity":1},"encoding":{"x":{"field":"vol","type":"quantitative"},"y":{"field":"ret","type":"quantitative"}}},
{"data":{"name":"assets"},"mark":{"type":"point","shape":"cross","angle":45,"size":170,"filled":true,"color":"#1a9bff","opacity":1},"encoding":{"x":{"field":"vol","type":"quantitative"},"y":{"field":"ret","type":"quantitative"}}},
{"data":{"name":"assets"},"mark":{"type":"text","font":"Open Sans","fontSize":12,"color":"#2a3f5f","dy":12},"encoding":{"x":{"field":"vol","type":"quantitative"},"y":{"field":"ret","type":"quantitative"},"text":{"field":"name"}}}
]}
